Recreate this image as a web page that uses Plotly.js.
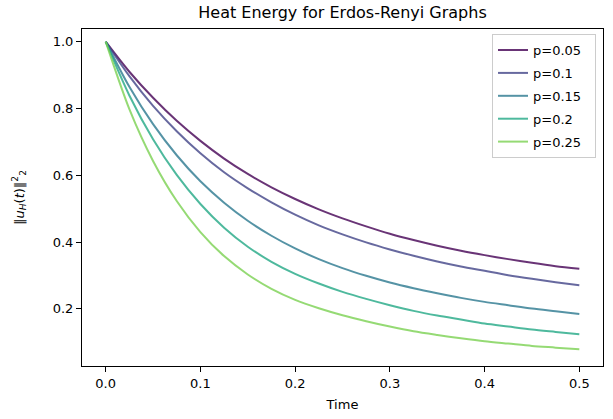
<!DOCTYPE html>
<html>
<head>
<meta charset="utf-8">
<script src="https://cdn.plot.ly/plotly-3.0.1.min.js"></script>
<style>html,body{margin:0;padding:0;background:#fff;}#chart{width:613px;height:419px;}</style>
</head>
<body>
<div id="chart"></div>
<script>
const time = [0, 0.025, 0.05, 0.075, 0.1, 0.125, 0.15, 0.175, 0.2, 0.225, 0.25, 0.275, 0.3, 0.325, 0.35, 0.375, 0.4, 0.425, 0.45, 0.475, 0.5];
const seriesNames = ["p=0.05", "p=0.1", "p=0.15", "p=0.2", "p=0.25"];
const p005 = [1.0, 0.910, 0.832, 0.763, 0.703, 0.650, 0.604, 0.564, 0.529, 0.498, 0.471, 0.447, 0.425, 0.406, 0.389, 0.374, 0.361, 0.349, 0.338, 0.328, 0.320];
const p010 = [1.0, 0.897, 0.808, 0.732, 0.666, 0.609, 0.561, 0.519, 0.482, 0.450, 0.423, 0.399, 0.378, 0.359, 0.342, 0.327, 0.314, 0.301, 0.290, 0.280, 0.271];
const p015 = [1.0, 0.865, 0.753, 0.660, 0.582, 0.518, 0.464, 0.419, 0.381, 0.349, 0.322, 0.299, 0.279, 0.262, 0.247, 0.233, 0.221, 0.211, 0.201, 0.193, 0.185];
const p020 = [1.0, 0.839, 0.708, 0.601, 0.514, 0.443, 0.386, 0.341, 0.305, 0.276, 0.251, 0.230, 0.211, 0.194, 0.180, 0.168, 0.156, 0.147, 0.138, 0.131, 0.124];
const p025 = [1.0, 0.798, 0.643, 0.523, 0.430, 0.358, 0.303, 0.260, 0.227, 0.202, 0.181, 0.163, 0.147, 0.133, 0.122, 0.112, 0.103, 0.096, 0.089, 0.084, 0.079];
const seriesValues = [p005, p010, p015, p020, p025];
const colors = ["rgba(68,1,84,0.8)", "rgba(65,68,135,0.8)", "rgba(42,120,142,0.8)", "rgba(34,168,132,0.8)", "rgba(122,209,81,0.8)"];
const xTicks = [0, 0.1, 0.2, 0.3, 0.4, 0.5];
const xTickText = ["0.0", "0.1", "0.2", "0.3", "0.4", "0.5"];
const yTicks = [0.2, 0.4, 0.6, 0.8, 1.0];
const yTickText = ["0.2", "0.4", "0.6", "0.8", "1.0"];

const font = "DejaVu Sans, sans-serif";
const pad = "\u00a0\u00a0";
const traces = seriesNames.map((n, i) => ({
  x: time, y: seriesValues[i], name: n + pad, type: "scatter", mode: "lines",
  legendgroup: "g" + i,
  line: {color: colors[i], width: 2, shape: "spline", smoothing: 0.8}
}));

const axisCommon = {
  showline: true, mirror: true, linecolor: "#000", linewidth: 1,
  ticks: "outside", ticklen: 5, tickwidth: 1, tickcolor: "#000",
  showgrid: false, zeroline: false,
  tickfont: {family: font, size: 13, color: "#000"}
};

const layout = {
  width: 613, height: 419,
  margin: {l: 82, r: 10, t: 29, b: 53},
  paper_bgcolor: "#fff", plot_bgcolor: "#fff",
  font: {family: font, color: "#000"},
  title: {text: "Heat Energy for Erdos-Renyi Graphs", font: {family: font, size: 16, color: "#000"},
          xref: "paper", x: 0.5, xanchor: "center", yref: "container", y: 0.971, yanchor: "middle"},
  xaxis: Object.assign({}, axisCommon, {
    range: [-0.025, 0.525], tickvals: xTicks, ticktext: xTickText,
    title: {text: "Time", font: {family: font, size: 13, color: "#000"}, standoff: 10}
  }),
  yaxis: Object.assign({}, axisCommon, {
    range: [0.029, 1.038], tickvals: yTicks, ticktext: yTickText,
    title: {text: "‖<i>u<sub>H</sub></i>(<i>t</i>)‖<sup>2</sup><sub>2</sub>", font: {family: font, size: 13, color: "#000"}, standoff: 25}
  }),
  showlegend: true,
  legend: {x: 0.9866, y: 0.985, xanchor: "right", yanchor: "top",
           bgcolor: "rgba(255,255,255,0.8)", bordercolor: "#cccccc", borderwidth: 1,
           tracegroupgap: 3,
           font: {family: font, size: 13, color: "#000"}}
};

Plotly.newPlot("chart", traces, layout, {displayModeBar: false, staticPlot: true});
</script>
</body>
</html>
